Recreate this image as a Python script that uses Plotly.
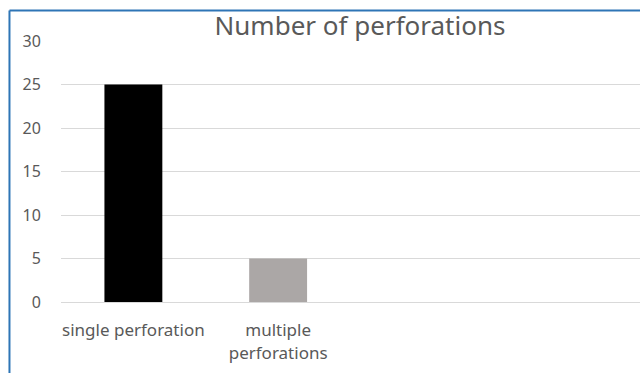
import plotly.graph_objects as go

# Chart data
categories = ["single perforation", "multiple<br>perforations", "", " "]
counts = [25, 5, None, None]
bar_colors = ["#000000", "#aba7a6", "#ffffff", "#ffffff"]
y_ticks = [0, 5, 10, 15, 20, 25, 30]

fig = go.Figure(
    go.Bar(
        x=categories,
        y=counts,
        marker=dict(color=bar_colors, line=dict(width=0)),
        width=0.4,
        hoverinfo="x+y",
    )
)

text_color = "#595959"
font_family = "Noto Sans, Open Sans, sans-serif"

fig.update_layout(
    width=640,
    height=373,
    margin=dict(l=61, r=0, t=41, b=71),
    paper_bgcolor="white",
    plot_bgcolor="white",
    showlegend=False,
    title=dict(
        text="Number of perforations",
        x=0.5625,
        xanchor="center",
        y=0.93,
        yanchor="middle",
        font=dict(family=font_family, size=26, color=text_color),
    ),
    xaxis=dict(
        type="category",
        range=[-0.5, 3.5],
        showgrid=False,
        showline=False,
        zeroline=False,
        ticks="outside",
        ticklen=13,
        tickcolor="rgba(0,0,0,0)",
        tickfont=dict(family=font_family, size=17, color=text_color),
    ),
    yaxis=dict(
        range=[0, 30],
        tickvals=y_ticks,
        showgrid=True,
        gridcolor="#d9d9d9",
        gridwidth=1,
        zeroline=True,
        zerolinecolor="#d9d9d9",
        zerolinewidth=1,
        showline=False,
        ticks="outside",
        ticklen=16,
        tickcolor="rgba(0,0,0,0)",
        tickfont=dict(family=font_family, size=16, color=text_color),
    ),
    shapes=[
        # blue frame edges (top and left) around the chart area
        dict(type="line", xref="paper", yref="paper",
             x0=-0.089, x1=1.2, y0=1.117, y1=1.117,
             line=dict(color="#2e75b6", width=2)),
        dict(type="line", xref="paper", yref="paper",
             x0=-0.089, x1=-0.089, y0=1.117, y1=-0.3,
             line=dict(color="#2e75b6", width=2)),
    ],
)

fig.write_html("out.html")
